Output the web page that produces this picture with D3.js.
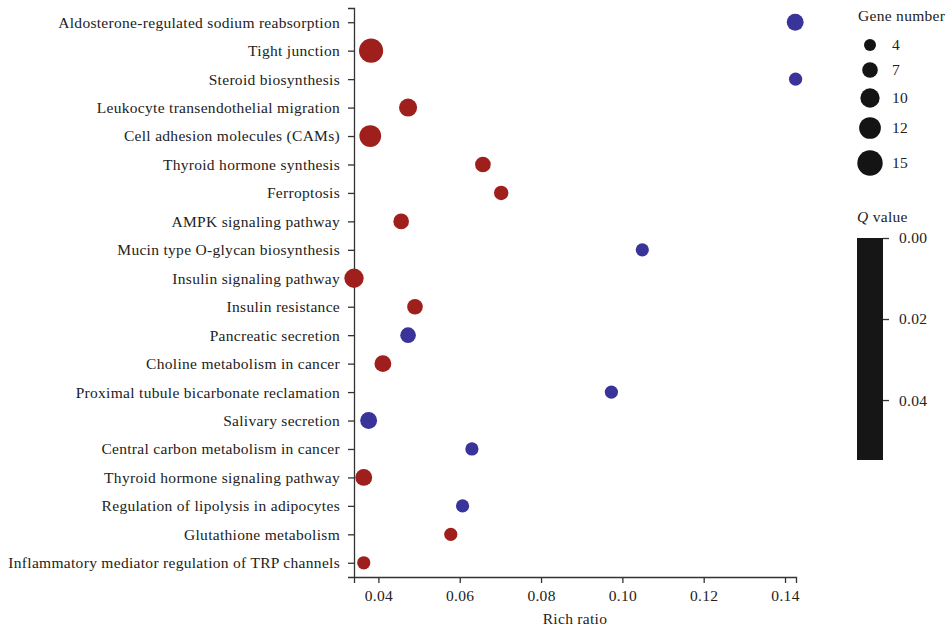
<!DOCTYPE html>
<meta charset="utf-8">
<script src="https://d3js.org/d3.v7.min.js"></script>
<style type="text/css">
body { margin: 0; background: #fff; }
svg, .axis { font-family: "Liberation Serif", "DejaVu Serif", serif; }
.axis path, .axis line { stroke: #333; stroke-width: 1.3; }
.axis text { fill: #222; font-size: 15.5px; letter-spacing: 0.3px; }
.lbl { fill: #222; font-size: 15.5px; letter-spacing: 0.3px; }
</style>
<body>
<div id="canvas"></div>
<script>

// pathways, top to bottom
var pathways = [
  "Aldosterone-regulated sodium reabsorption",
  "Tight junction",
  "Steroid biosynthesis",
  "Leukocyte transendothelial migration",
  "Cell adhesion molecules (CAMs)",
  "Thyroid hormone synthesis",
  "Ferroptosis",
  "AMPK signaling pathway",
  "Mucin type O-glycan biosynthesis",
  "Insulin signaling pathway",
  "Insulin resistance",
  "Pancreatic secretion",
  "Choline metabolism in cancer",
  "Proximal tubule bicarbonate reclamation",
  "Salivary secretion",
  "Central carbon metabolism in cancer",
  "Thyroid hormone signaling pathway",
  "Regulation of lipolysis in adipocytes",
  "Glutathione metabolism",
  "Inflammatory mediator regulation of TRP channels"
];
var richRatio = [0.1425, 0.0382, 0.1426, 0.0473, 0.0380, 0.0657, 0.0702, 0.0456, 0.1049, 0.0340,
                 0.0490, 0.0473, 0.0411, 0.0973, 0.0376, 0.0630, 0.0364, 0.0607, 0.0578, 0.0364];
var geneNumber = [8, 14, 5, 9, 12, 7, 6, 7, 5, 10,
                  7, 7, 8, 5, 8, 5, 8, 5, 5, 5];
var qGroup = ["b", "a", "b", "a", "a", "a", "a", "a", "b", "a",
              "a", "b", "a", "b", "b", "b", "a", "b", "a", "a"];

var xTicks = [0.04, 0.06, 0.08, 0.10, 0.12, 0.14];
var sizeLegend = [4, 7, 10, 12, 15];
var qTicks = [0, 0.02, 0.04];

var width = 950, height = 633;
var svg = d3.select('#canvas').append("svg")
  .attr("width", width).attr("height", height);

// scales --------------------------------------------------------------
var x = d3.scaleLinear().domain([0.034, 0.1427]).range([354, 796]);
var y = d3.scalePoint().domain(pathways).range([8, 577]).padding(0.5);
var r = d3.scaleLinear().domain([4, 15]).range([6, 12.7]);
var color = d3.scaleOrdinal().domain(["a", "b"]).range(["#9e1f1b", "#3a3399"]);

// axes ----------------------------------------------------------------
svg.append("g")
  .attr("class", "axis")
  .attr("transform", "translate(0,577)")
  .call(d3.axisBottom(x).tickValues(xTicks).tickFormat(d3.format(".2f")).tickSize(6).tickPadding(7))
  .attr("font-family", null);

svg.append("g")
  .attr("class", "axis")
  .attr("transform", "translate(354,0)")
  .call(d3.axisLeft(y).tickSize(6).tickPadding(8))
  .attr("font-family", null);

svg.append("text")
  .attr("class", "lbl")
  .attr("x", 575).attr("y", 624)
  .attr("text-anchor", "middle")
  .text("Rich ratio");

// points --------------------------------------------------------------
var data = pathways.map(function(p, i) {
  return { p: p, x: richRatio[i], n: geneNumber[i], g: qGroup[i] };
});

svg.append("g").selectAll("circle")
  .data(data).enter().append("circle")
  .attr("cx", function(d) { return x(d.x); })
  .attr("cy", function(d) { return y(d.p); })
  .attr("r", function(d) { return r(d.n); })
  .attr("fill", function(d) { return color(d.g); });

// gene number legend --------------------------------------------------
var lg = svg.append("g");
lg.append("text").attr("class", "lbl").attr("x", 858).attr("y", 21).text("Gene number");
var sizeY = [45, 70, 98, 128, 163];
lg.selectAll("circle").data(sizeLegend).enter().append("circle")
  .attr("cx", 870)
  .attr("cy", function(d, i) { return sizeY[i]; })
  .attr("r", function(d) { return r(d); })
  .attr("fill", "#141414");
lg.selectAll("text.v").data(sizeLegend).enter().append("text")
  .attr("class", "lbl v")
  .attr("x", 892)
  .attr("y", function(d, i) { return sizeY[i]; })
  .attr("dy", "0.35em")
  .text(function(d) { return d; });

// Q value legend ------------------------------------------------------
var qt = svg.append("text").attr("class", "lbl").attr("x", 857).attr("y", 222);
qt.append("tspan").style("font-style", "italic").text("Q");
qt.append("tspan").text(" value");

var q = d3.scaleLinear().domain([0, 0.0548]).range([238, 460]);
svg.append("rect")
  .attr("x", 857).attr("y", q(0))
  .attr("width", 26).attr("height", q(0.0548) - q(0))
  .attr("fill", "#161616");
var qa = svg.append("g")
  .attr("class", "axis")
  .attr("transform", "translate(883,0)")
  .call(d3.axisRight(q).tickValues(qTicks).tickFormat(d3.format(".2f")).tickSize(6).tickPadding(10))
  .attr("font-family", null);
qa.select(".domain").remove();

</script>
</body>
